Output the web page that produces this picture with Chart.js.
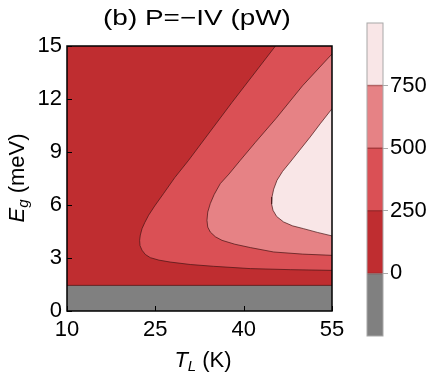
<!DOCTYPE html>
<html>
<head>
<meta charset="utf-8">
<script src="https://cdn.jsdelivr.net/npm/chart.js@4.4.0/dist/chart.umd.min.js"></script>
<style>
  body { margin: 0; background: #fff; }
  #wrap { position: relative; width: 437px; height: 377px; font-family: "Liberation Sans", Arial, sans-serif; color: #000; }
  #wrap canvas { position: absolute; left: 0; top: 0; }
  .lbl { position: absolute; font-size: 22px; line-height: 22px; white-space: nowrap; text-align: center; }
  #title { left: 47px; width: 300px; top: 7px; transform: scaleX(1.27); }
  #xtitle { left: 103px; width: 200px; top: 349px; }
  #ytitle { left: -83px; width: 200px; top: 167px; transform: rotate(-90deg); }
  sub { font-size: 15px; line-height: 0; vertical-align: -4px; }
</style>
</head>
<body>
<div id="wrap">
  <canvas id="plot" width="437" height="377"></canvas>
  <canvas id="bar" width="437" height="377"></canvas>
  <div class="lbl" id="title">(b) P=−IV (pW)</div>
  <div class="lbl" id="xtitle"><i>T</i><sub><i>L</i></sub> (K)</div>
  <div class="lbl" id="ytitle"><i>E</i><sub><i>g</i></sub> (meV)</div>
</div>
<script>
// axis ranges / ticks
var xRange = [10, 55];
var yRange = [0, 15];
var xTicks = [10, 25, 40, 55];
var yTicks = [0, 3, 6, 9, 12, 15];

// gap edge: below this Eg the power is negative (grey)
var eGap = 1.45;

// contour P = 250 pW
var T_250 = [45.4, 38.0, 30.65, 28.3, 26.4, 24.9, 23.86, 23.2, 22.74, 22.45, 22.33, 22.4, 22.74, 23.3, 24.14, 25.6, 27.54, 31.0, 34.89, 41.13, 48.0, 55.0];
var E_250 = [15.0, 11.8, 8.53, 7.55, 6.65, 5.95, 5.42, 5.0, 4.66, 4.3, 4.0, 3.7, 3.44, 3.2, 3.02, 2.88, 2.77, 2.63, 2.53, 2.40, 2.34, 2.30];

// contour P = 500 pW
var T_500 = [55.0, 50.0, 45.5, 42.0, 39.43, 37.5, 36.03, 35.0, 34.33, 33.9, 33.77, 33.9, 34.33, 35.2, 36.32, 38.5, 41.13, 45.1, 50.0, 55.0];
var E_500 = [14.55, 12.75, 10.9, 9.55, 8.53, 7.75, 7.21, 6.6, 6.08, 5.6, 5.13, 4.75, 4.47, 4.2, 4.0, 3.78, 3.59, 3.34, 3.22, 3.15];

// contour P = 750 pW
var T_750 = [55.0, 53.0, 51.3, 49.5, 47.9, 46.6, 45.66, 45.1, 44.81, 44.75, 44.98, 45.6, 46.78, 48.3, 50.18, 52.5, 55.0];
var E_750 = [11.45, 10.6, 9.85, 9.1, 8.43, 7.9, 7.4, 6.9, 6.45, 6.05, 5.7, 5.35, 5.04, 4.82, 4.66, 4.45, 4.25];

// colour bar
var levels = [-250, 0, 250, 500, 750, 1000];
var levelColors = ['#808080', '#bf2d30', '#da5055', '#e68285', '#f9e6e7'];
var barTicks = [0, 250, 500, 750];

var font = { family: '"Liberation Sans", Arial, sans-serif', size: 22 };
var lineColor = 'rgba(70, 20, 20, 0.7)';

var pts = function (xs, ys) {
    return xs.map(function (x, i) { return { x: x, y: ys[i] } })
}

// region polygon: contour + right/top corner of the plot
var region = function (xs, ys, color, order) {
    return {
        data: pts(xs, ys).concat([{ x: xRange[1], y: yRange[1] }]),
        showLine: true, fill: 'shape', backgroundColor: color,
        borderWidth: 0, pointRadius: 0, order: order
    }
}
var contour = function (xs, ys) {
    return {
        data: pts(xs, ys), showLine: true, fill: false,
        borderColor: lineColor, borderWidth: 1, pointRadius: 0, order: 0
    }
}
var rect = function (y0, y1, color, order) {
    return {
        data: [{ x: xRange[0], y: y0 }, { x: xRange[1], y: y0 }, { x: xRange[1], y: y1 }, { x: xRange[0], y: y1 }],
        showLine: true, fill: 'shape', backgroundColor: color,
        borderWidth: 0, pointRadius: 0, order: order
    }
}

var frame = {
    id: 'frame',
    afterDraw: function (chart) {
        var ctx = chart.ctx, a = chart.chartArea
        var sx = chart.scales.x, sy = chart.scales.y
        ctx.save()
        ctx.strokeStyle = '#000'
        ctx.lineWidth = 1
        ctx.beginPath()
        xTicks.forEach(function (v) {
            var p = Math.round(sx.getPixelForValue(v)) + 0.5
            ctx.moveTo(p, a.bottom); ctx.lineTo(p, a.bottom - 5)
        })
        yTicks.forEach(function (v) {
            var p = Math.round(sy.getPixelForValue(v)) + 0.5
            ctx.moveTo(a.left, p); ctx.lineTo(a.left + 5, p)
        })
        ctx.stroke()
        ctx.lineWidth = 1.5
        ctx.strokeRect(a.left, a.top, a.right - a.left, a.bottom - a.top)
        ctx.restore()
    }
}

new Chart(document.getElementById('plot'), {
    type: 'scatter',
    data: {
        datasets: [
            contour(T_750, E_750),
            contour(T_500, E_500),
            contour(T_250, E_250),
            contour(xRange, [eGap, eGap]),
            region(T_750, E_750, levelColors[4], 2),
            region(T_500, E_500, levelColors[3], 3),
            region(T_250, E_250, levelColors[2], 4),
            rect(yRange[0], eGap, levelColors[0], 5),
            rect(yRange[0], yRange[1], levelColors[1], 6)
        ]
    },
    options: {
        responsive: false,
        animation: false,
        layout: { padding: { left: 0, top: 46, right: 105, bottom: 0 } },
        plugins: { legend: { display: false }, tooltip: { enabled: false } },
        scales: {
            x: {
                type: 'linear', min: xRange[0], max: xRange[1],
                grid: { display: false, drawTicks: false, tickLength: 0 }, border: { display: false },
                afterBuildTicks: function (s) { s.ticks = xTicks.map(function (v) { return { value: v } }) },
                afterFit: function (s) { s.height = 66 },
                ticks: { font: font, color: '#000', padding: 6, maxRotation: 0, autoSkip: false }
            },
            y: {
                type: 'linear', min: yRange[0], max: yRange[1],
                grid: { display: false, drawTicks: false, tickLength: 0 }, border: { display: false },
                afterBuildTicks: function (s) { s.ticks = yTicks.map(function (v) { return { value: v } }) },
                afterFit: function (s) { s.width = 67 },
                ticks: { font: font, color: '#000', padding: 5, autoSkip: false }
            }
        }
    },
    plugins: [frame]
})

// colour bar
var barFrame = {
    id: 'barFrame',
    afterDatasetsDraw: function (chart) {
        var ctx = chart.ctx, a = chart.chartArea, sy = chart.scales.y
        ctx.save()
        ctx.strokeStyle = 'rgba(110, 30, 30, 0.45)'
        ctx.lineWidth = 1.5
        ctx.beginPath()
        levels.slice(1, -1).forEach(function (v) {
            var p = sy.getPixelForValue(v)
            ctx.moveTo(a.left, p); ctx.lineTo(a.right, p)
        })
        ctx.stroke()
        ctx.strokeStyle = '#a8a8a8'
        ctx.lineWidth = 1
        ctx.strokeRect(a.left, a.top, a.right - a.left, a.bottom - a.top)
        ctx.restore()
    }
}

new Chart(document.getElementById('bar'), {
    type: 'bar',
    data: {
        labels: [''],
        datasets: levelColors.map(function (c, i) {
            return {
                data: [[levels[i], levels[i + 1]]], backgroundColor: c,
                grouped: false, barPercentage: 1, categoryPercentage: 1, borderWidth: 0
            }
        })
    },
    options: {
        responsive: false,
        animation: false,
        layout: { padding: { left: 367, top: 23, right: 0, bottom: 41 } },
        plugins: { legend: { display: false }, tooltip: { enabled: false } },
        scales: {
            x: { display: false },
            y: {
                position: 'right', min: levels[0], max: levels[levels.length - 1],
                grid: { drawOnChartArea: false, tickLength: 5, color: '#aaa' },
                border: { display: false },
                afterBuildTicks: function (s) { s.ticks = barTicks.map(function (v) { return { value: v } }) },
                afterFit: function (s) { s.width = 54 },
                ticks: { font: font, color: '#000', padding: 2 }
            }
        }
    },
    plugins: [barFrame]
})
</script>
</body>
</html>
